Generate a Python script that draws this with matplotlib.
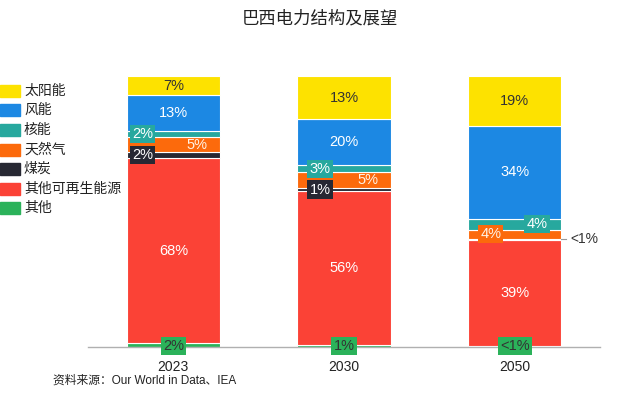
import matplotlib
matplotlib.use("Agg")
import matplotlib.pyplot as plt
from matplotlib.patches import Rectangle

plt.rcParams["font.family"] = ["Liberation Sans", "Noto Sans CJK SC", "DejaVu Sans"]

# ── data (bottom -> top of each stack) ────────────────────────────────
years = ["2023", "2030", "2050"]
series = ["其他", "其他可再生能源", "煤炭", "天然气", "核能", "风能", "太阳能"]
other = [1.5, 0.8, 0.5]
other_renew = [68, 57, 38.7]
coal = [2.2, 1.0, 0.4]
gas = [5.5, 5.8, 3.4]
nuclear = [2.2, 2.8, 4.0]
wind = [13.3, 17.0, 34.0]
solar = [7.0, 15.9, 18.3]

other_lbl = ["2%", "1%", "<1%"]
other_renew_lbl = ["68%", "56%", "39%"]
coal_lbl = ["2%", "1%", "<1%"]
gas_lbl = ["5%", "5%", "4%"]
nuclear_lbl = ["2%", "3%", "4%"]
wind_lbl = ["13%", "20%", "34%"]
solar_lbl = ["7%", "13%", "19%"]

colors = ["#2bb25a", "#fb4236", "#272833", "#fc6a0c", "#27a89e", "#1c88e3", "#fde200"]
values = [other, other_renew, coal, gas, nuclear, wind, solar]
labels = [other_lbl, other_renew_lbl, coal_lbl, gas_lbl, nuclear_lbl, wind_lbl, solar_lbl]

# each stack is shown as a 100% bar
totals = [sum(col) for col in zip(*values)]
shares = [[v / t * 100 for v, t in zip(vals, totals)] for vals in values]

# label placement per series: (x offset per bar, boxed?, text colour)
DARK = "#333333"
style = {
    0: ([0, 0, 0], True, DARK),
    1: ([0, 0, 0], False, "white"),
    2: ([-0.18, -0.14, None], True, "white"),
    3: ([0.14, 0.14, -0.14], [False, False, True], "#fff3e6"),
    4: ([-0.18, -0.14, 0.13], True, "white"),
    5: ([0, 0, 0], False, "white"),
    6: ([0, 0, 0], False, DARK),
}

fig = plt.figure(figsize=(6.4, 3.96), dpi=100)
ax = fig.add_axes([0.1375, 0.1237, 0.8, 0.6843])

x = list(range(len(years)))
width = 0.547
bottoms = [0.0] * len(years)
for si, (vals, col) in enumerate(zip(shares, colors)):
    ax.bar(x, vals, width=width, bottom=bottoms, color=col,
           edgecolor="white", linewidth=0.8, zorder=2)
    offs, boxed, tcol = style[si]
    for i, v in enumerate(vals):
        if offs[i] is None:
            continue
        yc = bottoms[i] + v / 2 if si != 0 else 0.3
        is_boxed = boxed[i] if isinstance(boxed, list) else boxed
        bbox = dict(boxstyle="square,pad=0.15", fc=col, ec="none") if is_boxed else None
        ax.text(i + offs[i], yc, labels[si][i], ha="center", va="center",
                fontsize=10.5, color=tcol, bbox=bbox, zorder=4)
    bottoms = [b + v for b, v in zip(bottoms, vals)]

# outside label for 2050 coal
coal_y = shares[0][2] + shares[1][2] + shares[2][2] / 2
ax.plot([2 + width / 2, 2 + width / 2 + 0.03], [coal_y, coal_y], color="#999999", lw=0.8)
ax.text(2 + width / 2 + 0.05, coal_y, coal_lbl[2], ha="left", va="center",
        fontsize=10, color=DARK)

ax.set_xlim(-0.5, 2.5)
ax.set_ylim(0, 100)
ax.set_xticks(x)
ax.set_xticklabels(years, fontsize=10, color="#222222")
ax.tick_params(axis="x", length=0, pad=9)
ax.set_yticks([])
for s in ["left", "right", "top"]:
    ax.spines[s].set_visible(False)
ax.spines["bottom"].set_color("#b0b0b0")
ax.spines["bottom"].set_linewidth(1)
ax.spines["bottom"].set_zorder(3)

# legend, top to bottom
for k, si in enumerate(reversed(range(len(series)))):
    yc = 1 - (90.7 + k * 19.6) / 396
    fig.add_artist(Rectangle((0.0, yc - 6 / 396), 20 / 640, 12 / 396,
                             transform=fig.transFigure, color=colors[si]))
    fig.text(24 / 640, yc, series[si], ha="left", va="center",
             fontsize=10, color="#222222")

fig.text(0.5, 1 - 18 / 396, "巴西电力结构及展望", ha="center", va="center",
         fontsize=12.5, fontweight="medium", color="#222222")
fig.text(236 / 640, 1 - 381 / 396, "资料来源：Our World in Data、IEA",
         ha="right", va="center", fontsize=8.5, color="#222222")

fig.savefig("out.png", dpi=100)
